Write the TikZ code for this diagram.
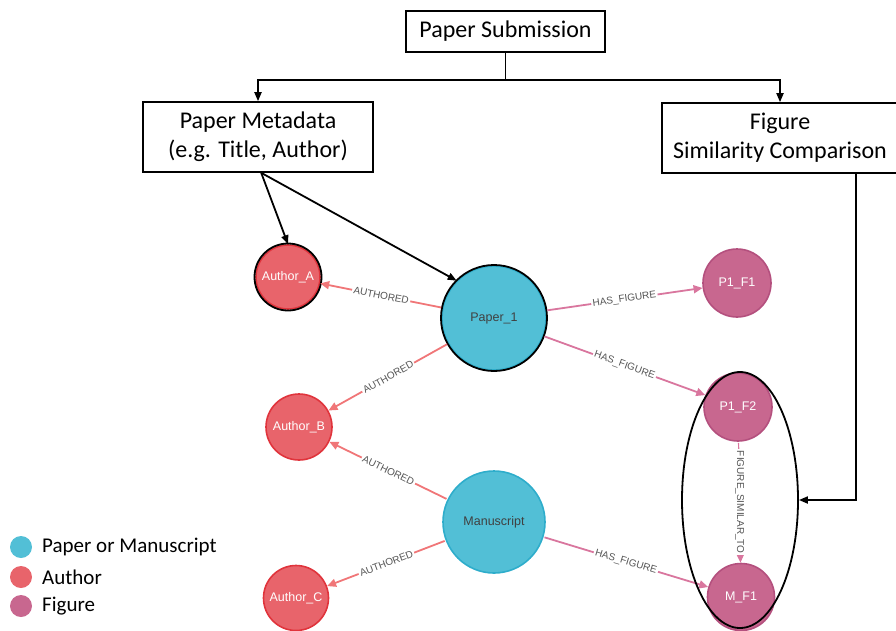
\documentclass[tikz,border=0pt]{standalone}
\usepackage{fontspec}
\setmainfont{Carlito}
\newfontfamily\helv{Liberation Sans}
\usetikzlibrary{arrows.meta,calc,shapes.geometric}
\definecolor{pblue}{HTML}{52BFD6}
\definecolor{pblueb}{HTML}{2EADCB}
\definecolor{ared}{HTML}{E8646B}
\definecolor{aredb}{HTML}{E0343C}
\definecolor{fpink}{HTML}{C8678F}
\definecolor{fpinkb}{HTML}{B4507E}
\definecolor{eauth}{HTML}{F07678}
\definecolor{efig}{HTML}{D9769E}
\definecolor{lbl}{HTML}{555555}
\tikzset{
  box/.style={draw=black, line width=1.6pt, fill=white, align=center,
    font=\fontsize{24}{29}\selectfont, inner sep=0pt},
  gnode/.style={circle, inner sep=0pt, line width=1.6pt, font=\helv\fontsize{12.5}{14}\selectfont},
  papern/.style={gnode, fill=pblue, draw=pblueb, text=black!75},
  authn/.style={gnode, fill=ared, draw=aredb, text=white},
  fign/.style={gnode, fill=fpink, draw=fpinkb, text=white},
  blk/.style={draw=black, line width=1.8pt, -{Triangle[length=9pt,width=7pt]}},
  rel/.style={line width=1.8pt, -{Triangle[length=9pt,width=8pt]}, shorten <=1pt},
  relauth/.style={rel, draw=eauth},
  relfig/.style={rel, draw=efig},
  elab/.style={fill=white, inner sep=1.5pt, text=lbl, font=\helv\fontsize{10}{10}\selectfont},
  leg/.style={anchor=west, font=\fontsize{21}{24}\selectfont, inner sep=0pt}
}
\begin{document}
\begin{tikzpicture}[x=1pt,y=-1pt]
\useasboundingbox (0,0) rectangle (896,630);

% boxes
\node[box, minimum width=199pt, minimum height=41pt] (sub) at (505.5,31.5) {Paper Submission};
\node[box, minimum width=230pt, minimum height=70pt] (meta) at (258,137) {Paper Metadata\\(e.g. Title, Author)};
\node[box, minimum width=236pt, minimum height=70pt] (fig) at (780,138) {Figure\\Similarity Comparison};

\draw[blk] (sub.south) -- ++(0,27) coordinate (junc) -| (meta.north);
\draw[blk] (junc) -| (fig.north);

% graph nodes
\node[papern, minimum size=104pt] (p1) at (494,318) {Paper\_1};
\node[papern, minimum size=102pt] (ms) at (494,522) {Manuscript};
\node[authn, minimum size=64pt] (aa) at (288,277) {Author\_A};
\node[authn, minimum size=66pt] (ab) at (299,427) {Author\_B};
\node[authn, minimum size=65pt] (ac) at (296,598) {Author\_C};
\node[fign, minimum size=68pt] (f1) at (737,283) {P1\_F1};
\node[fign, minimum size=68pt] (f2) at (738,407) {P1\_F2};
\node[fign, minimum size=67pt] (mf) at (741,597) {M\_F1};

% black outlines
\draw[line width=1.8pt] (aa.center) circle[radius=33.5pt];
\draw[line width=1.8pt] (p1.center) circle[radius=53pt];

% relationships
\draw[relauth] (p1) -- node[elab, sloped] {AUTHORED} (aa);
\draw[relauth] (p1) -- node[elab, sloped] {AUTHORED} (ab);
\draw[relauth] (ms) -- node[elab, sloped] {AUTHORED} (ab);
\draw[relauth] (ms) -- node[elab, sloped] {AUTHORED} (ac);
\draw[relfig] (p1) -- node[elab, sloped] {HAS\_FIGURE} (f1);
\draw[relfig] (p1) -- node[elab, sloped] {HAS\_FIGURE} (f2);
\draw[relfig] (ms) -- node[elab, sloped] {HAS\_FIGURE} (mf);
\draw[relfig, line width=1.2pt] (f2) -- node[elab, rotate=-90] {FIGURE\_SIMILAR\_TO} (mf);

% ellipse
\node[draw=black, line width=1.8pt, ellipse, minimum width=116pt, minimum height=256pt, inner sep=0pt] (ell) at (740,500) {};

% metadata arrows
\coordinate (ms0) at ($(meta.south west)+(119,0)$);
\draw[blk] (ms0) -- (aa.north);
\draw[blk] (ms0) -- (p1.north west);

% figure comparison arrow
\coordinate (fs0) at ($(fig.south west)+(195,0)$);
\draw[blk] (fs0) |- (ell.east);

% legend
\fill[pblue] (21,547) circle[radius=11pt];
\fill[ared] (21,577) circle[radius=11pt];
\fill[fpink] (21,606) circle[radius=11pt];
\node[leg] (l1) at (42,547) {Paper or Manuscript};
\node[leg] (l2) at (42,577) {Author};
\node[leg] (l3) at (42,606) {Figure};
\end{tikzpicture}
\end{document}
